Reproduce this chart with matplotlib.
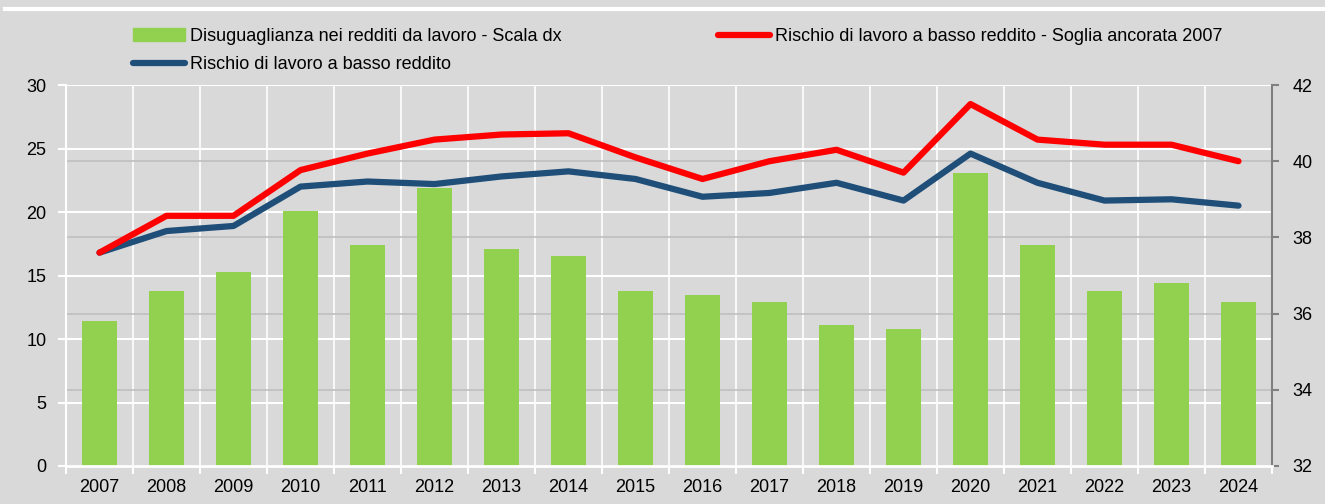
import matplotlib
matplotlib.use("Agg")
import matplotlib.pyplot as plt
import matplotlib.transforms as mtransforms
from matplotlib.patches import Patch
from matplotlib.lines import Line2D
import numpy as np

plt.rcParams['font.family'] = ['Liberation Sans', 'DejaVu Sans']
plt.rcParams['font.size'] = 13

years = ["2007", "2008", "2009", "2010", "2011", "2012", "2013", "2014", "2015",
         "2016", "2017", "2018", "2019", "2020", "2021", "2022", "2023", "2024"]
# disuguaglianza (scala dx)
disug = [35.8, 36.6, 37.1, 38.7, 37.8, 39.3, 37.7, 37.5, 36.6,
         36.5, 36.3, 35.7, 35.6, 39.7, 37.8, 36.6, 36.8, 36.3]
# rischio, soglia ancorata 2007
rischio_2007 = [16.8, 19.7, 19.7, 23.3, 24.6, 25.7, 26.1, 26.2, 24.3,
                22.6, 24.0, 24.9, 23.1, 28.5, 25.7, 25.3, 25.3, 24.0]
# rischio
rischio = [16.8, 18.5, 18.9, 22.0, 22.4, 22.2, 22.8, 23.2, 22.6,
           21.2, 21.5, 22.3, 20.9, 24.6, 22.3, 20.9, 21.0, 20.5]

lab_bar = "Disuguaglianza nei redditi da lavoro - Scala dx"
lab_red = "Rischio di lavoro a basso reddito - Soglia ancorata 2007"
lab_blue = "Rischio di lavoro a basso reddito"

bg = '#d9d9d9'
green = '#92d050'
red = '#ff0000'
blue = '#1f4e79'

fig = plt.figure(figsize=(13.25, 5.04), dpi=100, facecolor=bg)
ax = fig.add_axes([66/1325, 38/504, 1206/1325, 381/504])
ax.set_facecolor(bg)
ax2 = ax.twinx()
ax.yaxis.tick_right()
ax2.yaxis.tick_left()

x = np.arange(len(years))
ax.bar(x, disug, width=0.52, color=green, zorder=2)
ax.set_ylim(32, 42)
ax.set_yticks(np.arange(32, 43, 2))
ax.set_xlim(-0.5, len(years) - 0.5)

# grid: gray at right ticks, white at left ticks, white verticals
ax.set_axisbelow(True)
ax.grid(axis='y', color='#bfbfbf', lw=1.2)
ax.set_xticks(np.arange(-0.5, len(years), 1))
ax.set_xticklabels([])
ax.set_xticks(x, minor=True)
ax.set_xticklabels(years, minor=True)
ax.grid(axis='x', which='major', color='white', lw=1.2)
ax.tick_params(axis='x', which='major', length=6, width=1.5, color='white')
ax.tick_params(axis='x', which='minor', length=0, pad=9)
ax.tick_params(axis='y', length=5, width=1.5, color='#808080', pad=10)

ax2.plot(x, rischio, color=blue, lw=4.5, solid_capstyle='round', solid_joinstyle='round', zorder=3)
ax2.plot(x, rischio_2007, color=red, lw=4.5, solid_capstyle='round', solid_joinstyle='round', zorder=4)
ax2.set_ylim(0, 30)
ax2.set_yticks(np.arange(0, 31, 5))
ax2.tick_params(axis='y', length=6, width=1.5, color='white', pad=8)

tr = mtransforms.blended_transform_factory(ax.transAxes, ax2.transData)
for v in np.arange(5, 31, 5):
    ax.plot([0, 1], [v, v], transform=tr, color='white', lw=1.5, zorder=1)

ax.spines['top'].set_visible(False)
ax.spines['left'].set_color('white')
ax.spines['left'].set_linewidth(1.5)
ax.spines['bottom'].set_color('white')
ax.spines['bottom'].set_linewidth(2)
ax.spines['right'].set_color('#808080')
ax.spines['right'].set_linewidth(1.5)
for s in ax2.spines.values():
    s.set_visible(False)

# top white rule
fig.add_artist(Line2D([5/1325, 1], [1 - 9/504, 1 - 9/504], color='white', lw=3,
                      transform=fig.transFigure))

leg1 = fig.legend(handles=[Patch(color=green, label=lab_bar),
                           Line2D([], [], color=blue, lw=4.5, solid_capstyle='round', label=lab_blue)],
                  loc='upper left', bbox_to_anchor=(133/1325, 1 - 28/504), frameon=False,
                  borderpad=0, borderaxespad=0, handlelength=2.9, handletextpad=0.25,
                  labelspacing=0.6, fontsize=13)
leg2 = fig.legend(handles=[Line2D([], [], color=red, lw=4.5, solid_capstyle='round', label=lab_red)],
                  loc='upper left', bbox_to_anchor=(718/1325, 1 - 28/504), frameon=False,
                  borderpad=0, borderaxespad=0, handlelength=2.9, handletextpad=0.25,
                  fontsize=13)

fig.savefig("out.png", dpi=100, facecolor=bg)
